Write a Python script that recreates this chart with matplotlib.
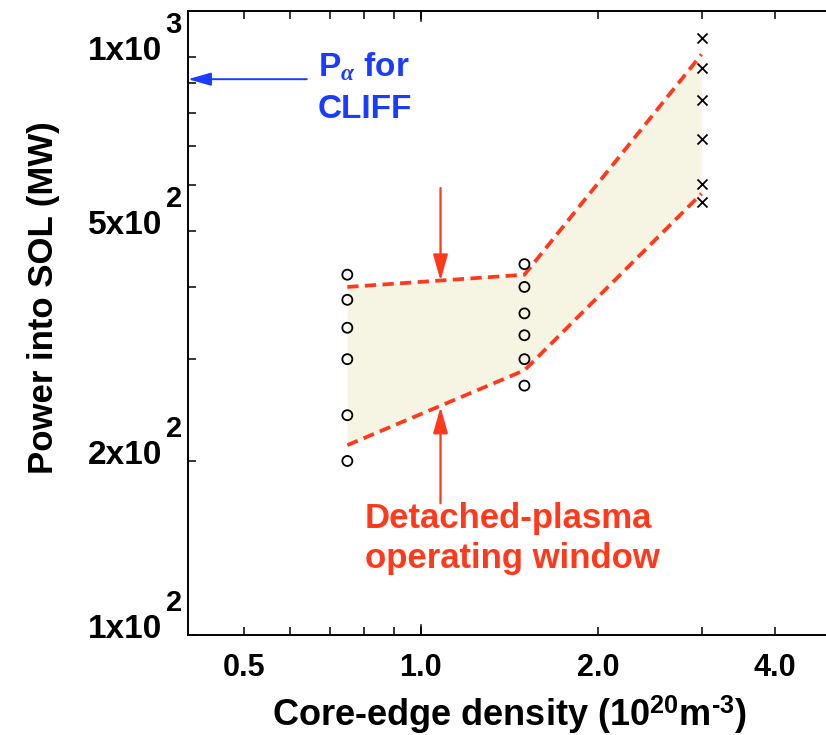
import matplotlib
matplotlib.use("Agg")
import matplotlib.pyplot as plt
from matplotlib.ticker import FixedLocator, NullFormatter
from matplotlib.transforms import offset_copy

# ---- data ------------------------------------------------------------------------
dens_low, dens_mid, dens_high = 0.75, 1.5, 3.0
p_low = [420, 380, 340, 300, 240, 200]          # circles at 0.75
p_mid = [438, 400, 360, 330, 300, 270]          # circles at 1.5
p_high = [1080, 958, 843, 721, 602, 561]        # crosses at 3.0

win_x = [0.75, 1.5, 3.0]
win_upper = [400, 420, 1010]
win_lower = [213, 287, 580]

cliff_p = 915                                   # P_alpha for CLIFF
arrow_x = 1.08
arrow_top = (593, 410)                          # tail, tip
arrow_bot = (169, 248)

xticks_major = [0.5, 1.0, 2.0, 4.0]
xtick_labels = ["0.5", "1.0", "2.0", "4.0"]
xticks_minor = [0.6, 0.7, 0.8, 0.9, 3.0]
yticks_major = [100, 200, 500, 1000]
ytick_base = ["1x10", "2x10", "5x10", "1x10"]
ytick_exp = ["2", "2", "2", "3"]
yticks_minor = [300, 400, 600, 700, 800, 900]

C = {"red": "#ff3a1c", "blue": "#1a3cff", "fill": "#f6f4e3", "ink": "#000000"}

plt.rcParams["font.family"] = ["Liberation Sans", "DejaVu Sans"]
plt.rcParams["font.weight"] = "bold"
plt.rcParams["mathtext.fontset"] = "custom"
plt.rcParams["mathtext.rm"] = "Liberation Sans:bold"
plt.rcParams["mathtext.bf"] = "Liberation Sans:bold"
plt.rcParams["mathtext.it"] = "Liberation Serif:italic"
plt.rcParams["mathtext.default"] = "it"

W, H = 826, 735
fig = plt.figure(figsize=(W / 100, H / 100), dpi=100)
ax = fig.add_axes([188 / W, 100 / H, 642 / W, 624.3 / H])
ax.set_xscale("log")
ax.set_yscale("log")
ax.set_xlim(0.402, 4.96)
ax.set_ylim(100, 1202)

# operating window
ax.fill_between(win_x, win_lower, win_upper, color=C["fill"], linewidth=0, zorder=1)
for yy in (win_upper, win_lower):
    ax.plot(win_x, yy, color=C["red"], linewidth=2.7, dashes=(3.0, 1.7), zorder=3)

# data points
ax.scatter([dens_low] * len(p_low), p_low, s=52, facecolors="none",
           edgecolors=C["ink"], linewidths=1.3, zorder=4)
ax.scatter([dens_mid] * len(p_mid), p_mid, s=52, facecolors="none",
           edgecolors=C["ink"], linewidths=1.3, zorder=4)
ax.scatter([dens_high] * len(p_high), p_high, s=52, marker="x",
           color=C["ink"], linewidths=1.3, zorder=4)

# arrows to the window edges
arr = dict(arrowstyle="-|>,head_length=1.6,head_width=0.45", color=C["red"], lw=1.6,
           shrinkA=0, shrinkB=0)
ax.annotate("", xy=(arrow_x, arrow_top[1]), xytext=(arrow_x, arrow_top[0]),
            arrowprops=arr, zorder=5)
ax.annotate("", xy=(arrow_x, arrow_bot[1]), xytext=(arrow_x, arrow_bot[0]),
            arrowprops=arr, zorder=5)
ax.text(0.803, 153, "Detached-plasma", color=C["red"], fontsize=25,
        fontweight="bold", ha="left", va="baseline")
ax.text(0.803, 130.6, "operating window", color=C["red"], fontsize=25,
        fontweight="bold", ha="left", va="baseline")

# P_alpha for CLIFF
ax.annotate("", xy=(0.402, cliff_p), xytext=(0.64, cliff_p),
            arrowprops=dict(arrowstyle="-|>,head_length=1.4,head_width=0.4",
                            color=C["blue"], lw=1.4, shrinkA=0, shrinkB=0))
ax.text(0.668, 927, r"P$_{\alpha}$ for", color=C["blue"], fontsize=24,
        fontweight="bold", ha="left", va="baseline")
ax.text(0.668, 784, "CLIFF", color=C["blue"], fontsize=24,
        fontweight="bold", ha="left", va="baseline")

# axes styling
ax.xaxis.set_major_locator(FixedLocator(xticks_major))
ax.set_xticklabels(xtick_labels)
ax.xaxis.set_minor_locator(FixedLocator(xticks_minor))
ax.xaxis.set_minor_formatter(NullFormatter())
ax.yaxis.set_major_locator(FixedLocator(yticks_major))
ax.yaxis.set_major_formatter(NullFormatter())
ax.yaxis.set_minor_locator(FixedLocator(yticks_minor))
ax.yaxis.set_minor_formatter(NullFormatter())
ax.tick_params(which="both", direction="in", top=True, right=False,
               length=5.5, width=1.1, colors=C["ink"])
ax.tick_params(axis="x", which="major", labelsize=22, pad=13)
for s in ax.spines.values():
    s.set_linewidth(1.4)
ax.spines["right"].set_visible(False)

# longer decade tick at 1.0 (bottom and top)
xt = ax.get_xaxis_transform()
ax.plot([1.0, 1.0], [0, 0.016], color=C["ink"], lw=1.1, transform=xt, clip_on=False)
ax.plot([1.0, 1.0], [1 - 0.016, 1], color=C["ink"], lw=1.1, transform=xt, clip_on=False)

# y tick labels as "Nx10" with a raised exponent
yt = ax.get_yaxis_transform()
base_tr = offset_copy(yt, fig=fig, x=-26, y=-3, units="dots")
exp_tr = offset_copy(yt, fig=fig, x=-6, y=24, units="dots")
for yv, b, e in zip(yticks_major, ytick_base, ytick_exp):
    ax.text(0, yv, b, transform=base_tr, ha="right", va="baseline",
            fontsize=24, fontweight="bold", clip_on=False)
    ax.text(0, yv, e, transform=exp_tr, ha="right", va="baseline",
            fontsize=21, fontweight="bold", clip_on=False)

ax.set_xlabel(r"Core-edge density (10$^{20}$m$^{\text{-}3}$)", fontsize=26,
              fontweight="bold")
ax.xaxis.set_label_coords(0.5, -0.146)
ax.xaxis.label.set_va("baseline")
ax.set_ylabel("Power into SOL (MW)", fontsize=25, fontweight="bold")
ax.yaxis.set_label_coords(-0.21, 0.541)
ax.yaxis.label.set_va("baseline")

fig.savefig("out.png", dpi=100)
